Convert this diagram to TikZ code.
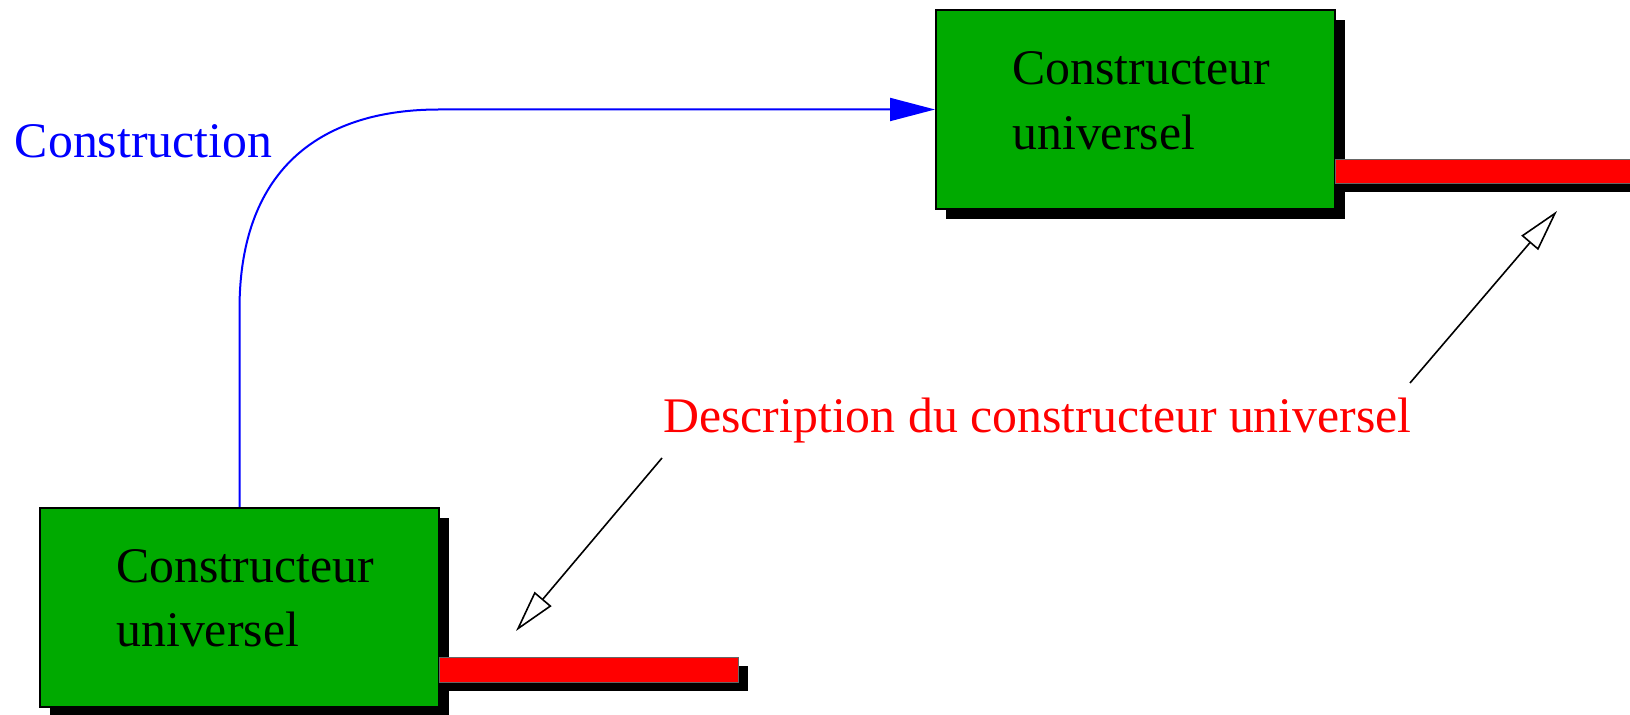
\documentclass[tikz,border=0pt]{standalone}
\usepackage{fontspec}
\setmainfont{Liberation Serif}
\usetikzlibrary{arrows.meta,shadows}
\definecolor{boxgreen}{RGB}{0,170,0}
\begin{document}
\begin{tikzpicture}[x=0.5pt,y=-0.5pt,
  ubox/.style={draw=black, line width=1pt, fill=boxgreen, minimum width=199.5pt, minimum height=99.5pt, inner sep=0pt,
    general shadow={fill=black, shadow xshift=5pt, shadow yshift=-5pt}},
  rbar/.style={draw=black!60, line width=0.5pt, fill=red, inner sep=0pt, anchor=north west,
    general shadow={fill=black, shadow xshift=4.5pt, shadow yshift=-4.5pt}},
  lbl/.style={font=\fontsize{24.9pt}{30pt}\selectfont, anchor=base west, inner sep=0pt},
  pointer/.style={draw=black, line width=0.8pt, -{Triangle[open, length=21pt, width=11pt, fill=white]}},
  blueline/.style={draw=blue, line width=1pt, -{Triangle[length=22.5pt, width=11.5pt]}}
]
\useasboundingbox (0,0) rectangle (1630,715);
% boxes
\node[ubox] (top) at (1135.5,109.5) {};
\node[ubox] (bot) at (239.5,607.5) {};
% bars
\node[rbar, minimum width=155pt, minimum height=12pt] (topbar) at (1335,159) {};
\node[rbar, minimum width=149.5pt, minimum height=12.5pt] (botbar) at (439,657) {};
% texts in boxes
\node[lbl] (t1) at (1012,85) {Constructeur};
\node[lbl] (t2) at (1012,150) {universel};
\node[lbl] (b1) at (116,583) {Constructeur};
\node[lbl] (b2) at (116,647) {universel};
% labels
\node[lbl, text=blue] (constr) at (14.5,158) {Construction};
\node[lbl, text=red] (desc) at (663,433) {Description du constructeur universel};
% blue connector
\coordinate (bend1) at (239.5,308);
\coordinate (bend2) at (439,109.5);
\draw[blueline] (bot.north) -- (bend1) .. controls (240,165) and (325,109.5) .. (bend2) -- (top.west);
% pointers
\coordinate (p1s) at (1410,383);
\coordinate (p1e) at (1557,211);
\coordinate (p2s) at (662,458);
\coordinate (p2e) at (516,631);
\draw[pointer] (p1s) -- (p1e);
\draw[pointer] (p2s) -- (p2e);
\end{tikzpicture}
\end{document}
